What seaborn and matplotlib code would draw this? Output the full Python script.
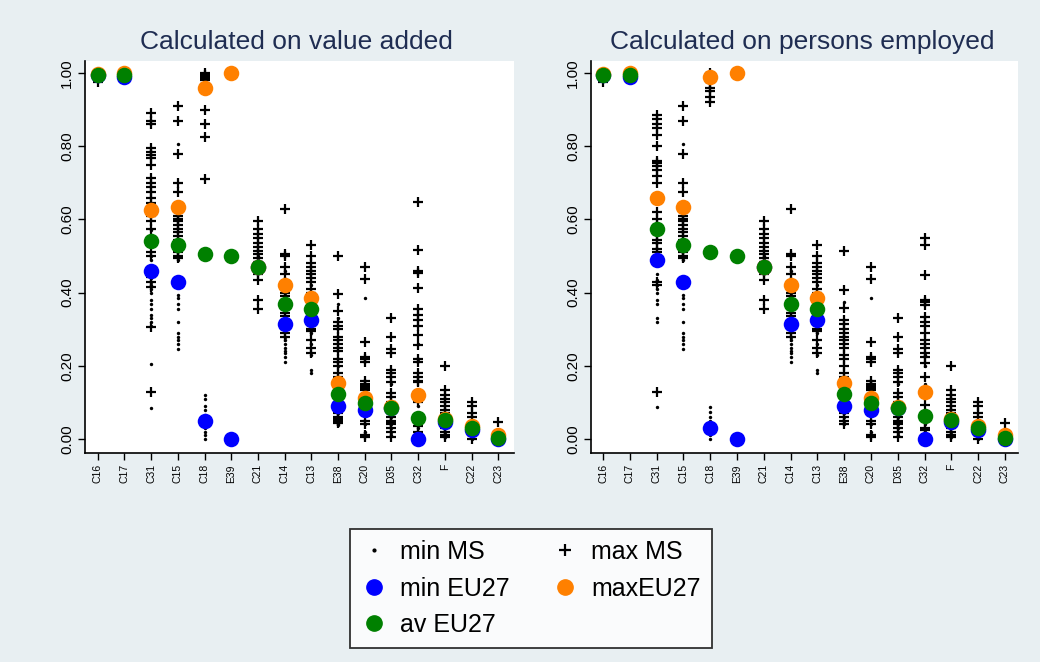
import matplotlib
matplotlib.use("Agg")
import matplotlib.pyplot as plt
import seaborn as sns
import pandas as pd
from matplotlib.lines import Line2D

cats = ["C16", "C17", "C31", "C15", "C18", "E39", "C21", "C14", "C13",
        "E38", "C20", "D35", "C32", "F", "C22", "C23"]
ytick_vals = [0.0, 0.2, 0.4, 0.6, 0.8, 1.0]
ytick_labels = ["0.00", "0.20", "0.40", "0.60", "0.80", "1.00"]
titles = ["Calculated on value added", "Calculated on persons employed"]
legend_labels = ["min MS", "min EU27", "av EU27", "max MS", "maxEU27"]

# ---------------- value added ----------------
va_min_eu = [0.995, 0.99, 0.46, 0.43, 0.05, 0.0, 0.47, 0.315, 0.325, 0.09, 0.08, 0.085, 0.0, 0.048, 0.025, 0.0]
va_max_eu = [0.997, 1.0, 0.625, 0.635, 0.96, 1.0, 0.47, 0.42, 0.385, 0.153, 0.112, 0.088, 0.12, 0.056, 0.035, 0.01]
va_av_eu = [0.996, 0.995, 0.54, 0.53, 0.505, 0.50, 0.47, 0.37, 0.355, 0.123, 0.098, 0.085, 0.057, 0.052, 0.03, 0.003]

va_max_ms = [
    [1.0, 0.995, 0.99, 0.975],
    [1.0, 0.995, 0.99],
    [0.89, 0.87, 0.86, 0.795, 0.785, 0.776, 0.767, 0.75, 0.713, 0.70, 0.69, 0.675, 0.66, 0.645,
     0.61, 0.595, 0.575, 0.545, 0.51, 0.50, 0.443, 0.43, 0.415, 0.306, 0.129],
    [0.91, 0.87, 0.78, 0.70, 0.675, 0.635, 0.61, 0.60, 0.595, 0.585, 0.575, 0.565, 0.555, 0.545,
     0.53, 0.52, 0.51, 0.50, 0.495],
    [1.0, 0.995, 0.99, 0.985, 0.98, 0.97, 0.95, 0.90, 0.86, 0.825, 0.71],
    [1.0],
    [0.595, 0.575, 0.56, 0.55, 0.535, 0.525, 0.515, 0.505, 0.495, 0.485, 0.475, 0.46, 0.45, 0.435, 0.38, 0.355],
    [0.628, 0.505, 0.50, 0.47, 0.45, 0.43, 0.40, 0.39, 0.38, 0.375, 0.365, 0.355, 0.345, 0.335, 0.32, 0.30, 0.29, 0.28],
    [0.53, 0.50, 0.48, 0.47, 0.46, 0.45, 0.44, 0.43, 0.41, 0.40, 0.375, 0.34, 0.30, 0.295, 0.27, 0.25, 0.235],
    [0.50, 0.397, 0.35, 0.32, 0.31, 0.30, 0.28, 0.27, 0.26, 0.25, 0.24, 0.22, 0.21, 0.20, 0.18, 0.17, 0.16,
     0.08, 0.07, 0.06, 0.055, 0.05, 0.044],
    [0.47, 0.437, 0.265, 0.225, 0.22, 0.21, 0.16, 0.15, 0.145, 0.14, 0.135, 0.05, 0.04, 0.01, 0.005],
    [0.33, 0.278, 0.245, 0.235, 0.19, 0.18, 0.17, 0.155, 0.125, 0.115, 0.10, 0.07, 0.06, 0.05, 0.045,
     0.04, 0.03, 0.02, 0.005],
    [0.647, 0.517, 0.46, 0.455, 0.413, 0.355, 0.34, 0.325, 0.31, 0.285, 0.257, 0.22, 0.21, 0.18, 0.17,
     0.16, 0.155, 0.10, 0.035, 0.02],
    [0.20, 0.135, 0.12, 0.11, 0.10, 0.09, 0.08, 0.07, 0.06, 0.03, 0.02, 0.01, 0.005],
    [0.10, 0.09, 0.07, 0.06, 0.04, 0.02, 0.01, 0.0],
    [0.048, 0.01, 0.0],
]
va_min_ms = [
    [0.99, 0.98],
    [0.99, 0.985],
    [0.62, 0.57, 0.55, 0.50, 0.49, 0.46, 0.44, 0.43, 0.42, 0.41, 0.40, 0.38, 0.37, 0.355, 0.34, 0.33,
     0.32, 0.31, 0.205, 0.085],
    [0.805, 0.50, 0.49, 0.395, 0.385, 0.37, 0.355, 0.32, 0.29, 0.28, 0.27, 0.26, 0.245],
    [0.12, 0.11, 0.09, 0.08, 0.065, 0.055, 0.04, 0.03, 0.02, 0.01, 0.0],
    [0.0],
    [0.50, 0.49, 0.48, 0.47, 0.46],
    [0.46, 0.40, 0.35, 0.33, 0.31, 0.28, 0.27, 0.26, 0.25, 0.24, 0.235, 0.225, 0.21],
    [0.42, 0.39, 0.36, 0.33, 0.29, 0.26, 0.23, 0.19, 0.18],
    [0.37, 0.33, 0.20, 0.10, 0.07, 0.06, 0.05, 0.045, 0.04, 0.038],
    [0.385, 0.15, 0.13, 0.12, 0.10, 0.09, 0.08, 0.07, 0.04, 0.02, 0.01],
    [0.15, 0.10, 0.08, 0.06, 0.05, 0.04, 0.03, 0.02, 0.01],
    [0.26, 0.22, 0.16, 0.12, 0.09, 0.05, 0.03, 0.02, 0.01, 0.0],
    [0.06, 0.04, 0.03, 0.02, 0.01, 0.005],
    [0.03, 0.02, 0.01, 0.005, 0.0],
    [0.0, 0.0],
]

# ---------------- persons employed ----------------
pe_min_eu = [0.995, 0.99, 0.49, 0.43, 0.03, 0.0, 0.47, 0.315, 0.325, 0.09, 0.08, 0.085, 0.0, 0.048, 0.025, 0.0]
pe_max_eu = [0.997, 1.0, 0.66, 0.635, 0.988, 1.0, 0.47, 0.42, 0.385, 0.153, 0.112, 0.088, 0.13, 0.056, 0.035, 0.01]
pe_av_eu = [0.996, 0.995, 0.575, 0.53, 0.51, 0.50, 0.47, 0.37, 0.355, 0.123, 0.098, 0.085, 0.063, 0.052, 0.03, 0.003]

pe_max_ms = [
    [1.0, 0.995, 0.99, 0.975],
    [1.0, 0.995, 0.99],
    [0.885, 0.875, 0.86, 0.85, 0.83, 0.80, 0.76, 0.755, 0.745, 0.735, 0.72, 0.70, 0.65, 0.62, 0.60,
     0.585, 0.56, 0.545, 0.535, 0.52, 0.51, 0.43, 0.42, 0.13],
    [0.91, 0.87, 0.78, 0.70, 0.675, 0.635, 0.61, 0.60, 0.595, 0.585, 0.575, 0.565, 0.555, 0.545,
     0.53, 0.52, 0.51, 0.50, 0.495],
    [1.0, 0.99, 0.975, 0.96, 0.95, 0.935, 0.92],
    [1.0],
    [0.595, 0.575, 0.56, 0.55, 0.535, 0.525, 0.515, 0.505, 0.495, 0.485, 0.475, 0.46, 0.45, 0.435, 0.38, 0.355],
    [0.628, 0.505, 0.50, 0.47, 0.45, 0.43, 0.40, 0.39, 0.38, 0.375, 0.365, 0.355, 0.345, 0.335, 0.32, 0.30, 0.29, 0.28],
    [0.53, 0.50, 0.48, 0.47, 0.46, 0.45, 0.44, 0.43, 0.41, 0.40, 0.375, 0.34, 0.30, 0.295, 0.27, 0.25, 0.235],
    [0.513, 0.407, 0.358, 0.325, 0.315, 0.30, 0.29, 0.28, 0.27, 0.26, 0.25, 0.23, 0.22, 0.20, 0.18,
     0.17, 0.16, 0.08, 0.07, 0.06, 0.05, 0.04],
    [0.47, 0.437, 0.265, 0.225, 0.22, 0.21, 0.16, 0.15, 0.145, 0.14, 0.135, 0.05, 0.04, 0.01, 0.005],
    [0.33, 0.278, 0.245, 0.235, 0.19, 0.18, 0.17, 0.155, 0.125, 0.115, 0.10, 0.07, 0.06, 0.05, 0.045,
     0.04, 0.03, 0.02, 0.005],
    [0.55, 0.53, 0.448, 0.38, 0.375, 0.366, 0.333, 0.32, 0.31, 0.29, 0.27, 0.26, 0.25, 0.235, 0.224,
     0.207, 0.17, 0.093, 0.03, 0.025],
    [0.20, 0.135, 0.12, 0.11, 0.10, 0.09, 0.08, 0.07, 0.06, 0.03, 0.02, 0.01, 0.005],
    [0.10, 0.09, 0.07, 0.06, 0.04, 0.02, 0.01, 0.0],
    [0.043, 0.01, 0.0],
]
pe_min_ms = [
    [0.99, 0.98],
    [0.99, 0.985],
    [0.45, 0.435, 0.42, 0.41, 0.40, 0.38, 0.37, 0.33, 0.32, 0.088],
    [0.805, 0.50, 0.49, 0.395, 0.385, 0.37, 0.355, 0.32, 0.29, 0.28, 0.27, 0.26, 0.245],
    [0.087, 0.075, 0.06, 0.05, 0.04, 0.02, 0.01, 0.0],
    [0.0],
    [0.50, 0.49, 0.48, 0.47, 0.46],
    [0.46, 0.40, 0.35, 0.33, 0.31, 0.28, 0.27, 0.26, 0.25, 0.24, 0.235, 0.225, 0.21],
    [0.42, 0.39, 0.36, 0.33, 0.29, 0.26, 0.23, 0.19, 0.18],
    [0.375, 0.10, 0.07, 0.06, 0.05, 0.04],
    [0.385, 0.15, 0.13, 0.12, 0.10, 0.09, 0.08, 0.07, 0.04, 0.02, 0.01],
    [0.15, 0.10, 0.08, 0.06, 0.05, 0.04, 0.03, 0.02, 0.01],
    [0.23, 0.20, 0.15, 0.12, 0.08, 0.04, 0.02, 0.01, 0.0],
    [0.06, 0.04, 0.03, 0.02, 0.01, 0.005],
    [0.03, 0.02, 0.01, 0.005, 0.0],
    [0.0, 0.0],
]

BLUE = "#0000ff"
ORANGE = "#ff8000"
GREEN = "#008000"
NAVY = "#1f2d52"
BG = "#e8eff2"


def long_df(groups):
    rows = []
    for c, vals in zip(cats, groups):
        for v in vals:
            rows.append((c, v))
    return pd.DataFrame(rows, columns=["sector", "share"])


sns.set_theme(style="white")
plt.rcParams["font.family"] = ["Liberation Sans", "DejaVu Sans"]
plt.rcParams["text.color"] = "black"

fig = plt.figure(figsize=(10.4, 6.62), dpi=100, facecolor=BG)
W, H = 1040, 662
ax1 = fig.add_axes([85 / W, 1 - 453 / H, 429 / W, 392 / H])
ax2 = fig.add_axes([591 / W, 1 - 453 / H, 427 / W, 392 / H])


def draw(ax, min_ms, max_ms, min_eu, max_eu, av_eu, xlim):
    eu = pd.DataFrame({"sector": cats, "mn": min_eu, "mx": max_eu, "av": av_eu})
    sns.scatterplot(data=eu, x="sector", y="mn", ax=ax, color=BLUE, s=125,
                    linewidth=0, zorder=4, legend=False)
    sns.scatterplot(data=long_df(min_ms), x="sector", y="share", ax=ax, color="black",
                    marker="o", s=6, linewidth=0, zorder=2, legend=False)
    sns.scatterplot(data=long_df(max_ms), x="sector", y="share", ax=ax, color="black",
                    marker="+", s=55, linewidth=1.6, zorder=3, legend=False)
    sns.scatterplot(data=eu, x="sector", y="mx", ax=ax, color=ORANGE, s=125,
                    linewidth=0, zorder=5, legend=False)
    sns.scatterplot(data=eu, x="sector", y="av", ax=ax, color=GREEN, s=125,
                    linewidth=0, zorder=6, legend=False)
    ax.set_facecolor("white")
    ax.set_xlim(*xlim)
    ax.set_ylim(-0.038, 1.033)
    ax.set_yticks(ytick_vals)
    ax.set_yticklabels(ytick_labels, rotation=90, va="center", fontsize=11)
    ax.set_xticks(range(len(cats)))
    ax.set_xticklabels(cats, rotation=90, fontsize=7.5)
    ax.set_xlabel("")
    ax.set_ylabel("")
    ax.tick_params(axis="both", direction="out", length=5, width=1, color="black",
                   pad=3, labelcolor="black", left=True, bottom=True)
    for side in ("top", "right"):
        ax.spines[side].set_visible(False)
    for side in ("left", "bottom"):
        ax.spines[side].set_color("black")
        ax.spines[side].set_linewidth(1.2)
    ax.grid(False)


draw(ax1, va_min_ms, va_max_ms, va_min_eu, va_max_eu, va_av_eu, (-0.476, 15.59))
draw(ax2, pe_min_ms, pe_max_ms, pe_min_eu, pe_max_eu, pe_av_eu, (-0.45, 15.49))

fig.text(296 / W, 1 - 42 / H, titles[0], ha="center", va="center", fontsize=19, color=NAVY)
fig.text(802 / W, 1 - 42 / H, titles[1], ha="center", va="center", fontsize=19, color=NAVY)

handles = [
    Line2D([], [], marker="o", ms=2, color="black", ls="None"),
    Line2D([], [], marker="o", ms=11, color=BLUE, ls="None"),
    Line2D([], [], marker="o", ms=11, color=GREEN, ls="None"),
    Line2D([], [], marker="+", ms=9, mew=1.6, color="black", ls="None"),
    Line2D([], [], marker="o", ms=11, color=ORANGE, ls="None"),
]
leg = fig.legend(handles, legend_labels, loc="center", bbox_to_anchor=(531 / W, 1 - 588.5 / H),
                 ncol=2, frameon=True, fancybox=False, fontsize=18, facecolor="white",
                 edgecolor="black", handlelength=1.0, handletextpad=0.55, columnspacing=1.7,
                 labelspacing=0.5, borderpad=0.45, borderaxespad=0, labelcolor="black")
leg.get_frame().set_linewidth(1.3)

fig.savefig("out.png", dpi=100, facecolor=BG)
